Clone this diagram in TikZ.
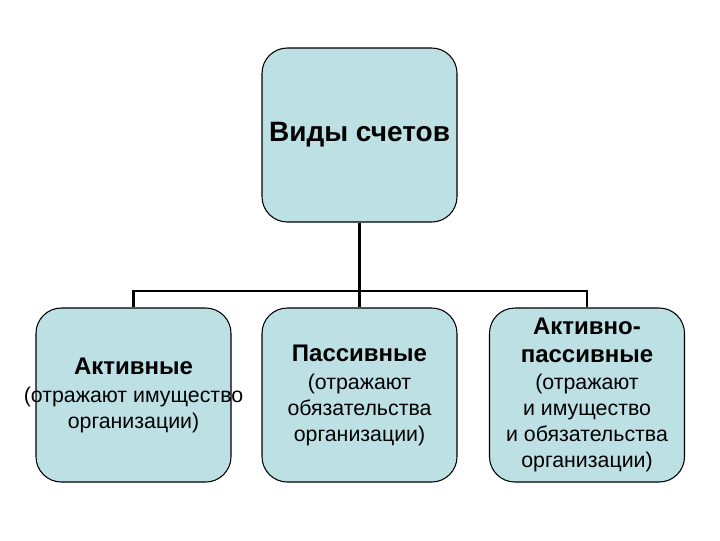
\documentclass[tikz,border=0pt]{standalone}
\usepackage{fontspec}
\setmainfont{Liberation Sans}
\definecolor{boxfill}{RGB}{188,224,228}
\newcommand{\hdtext}[1]{{\fontsize{18}{19.5}\selectfont\bfseries #1}}
\begin{document}
\begin{tikzpicture}[x=0.75pt,y=-0.75pt,
  boxstyle/.style={draw=black, line width=0.8pt, fill=boxfill, rounded corners=19pt,
    minimum width=146.25pt, minimum height=130.5pt, inner sep=0pt, align=center,
    font=\fontsize{16}{19.5}\selectfont},
  conn/.style={line width=2pt, draw=black},
]
\useasboundingbox (0,0) rectangle (720,540);
\node[boxstyle, font=\fontsize{21}{25}\selectfont\bfseries] (top) at (359.5,135) {Виды счетов};
\node[boxstyle] (left) at (133.5,395) {\hdtext{Активные}\\[1.5pt]
  \makebox[0pt]{(отражают имущество}\\
  организации)};
\node[boxstyle] (mid) at (359.5,395) {\hdtext{Пассивные}\\[1.5pt]
  (отражают\\
  обязательства\\
  организации)};
\node[boxstyle] (right) at (587,395) {\hdtext{Активно-}\\[1.5pt]
  \hdtext{пассивные}\\[0.5pt]
  (отражают\\
  и имущество\\
  и обязательства\\
  организации)};
\coordinate (hub) at (359.5,291);
\draw[conn] (top.south) -- (hub);
\draw[conn] (left.north) |- (hub);
\draw[conn] (right.north) |- (hub);
\draw[conn] (mid.north) -- (hub);
\end{tikzpicture}
\end{document}
